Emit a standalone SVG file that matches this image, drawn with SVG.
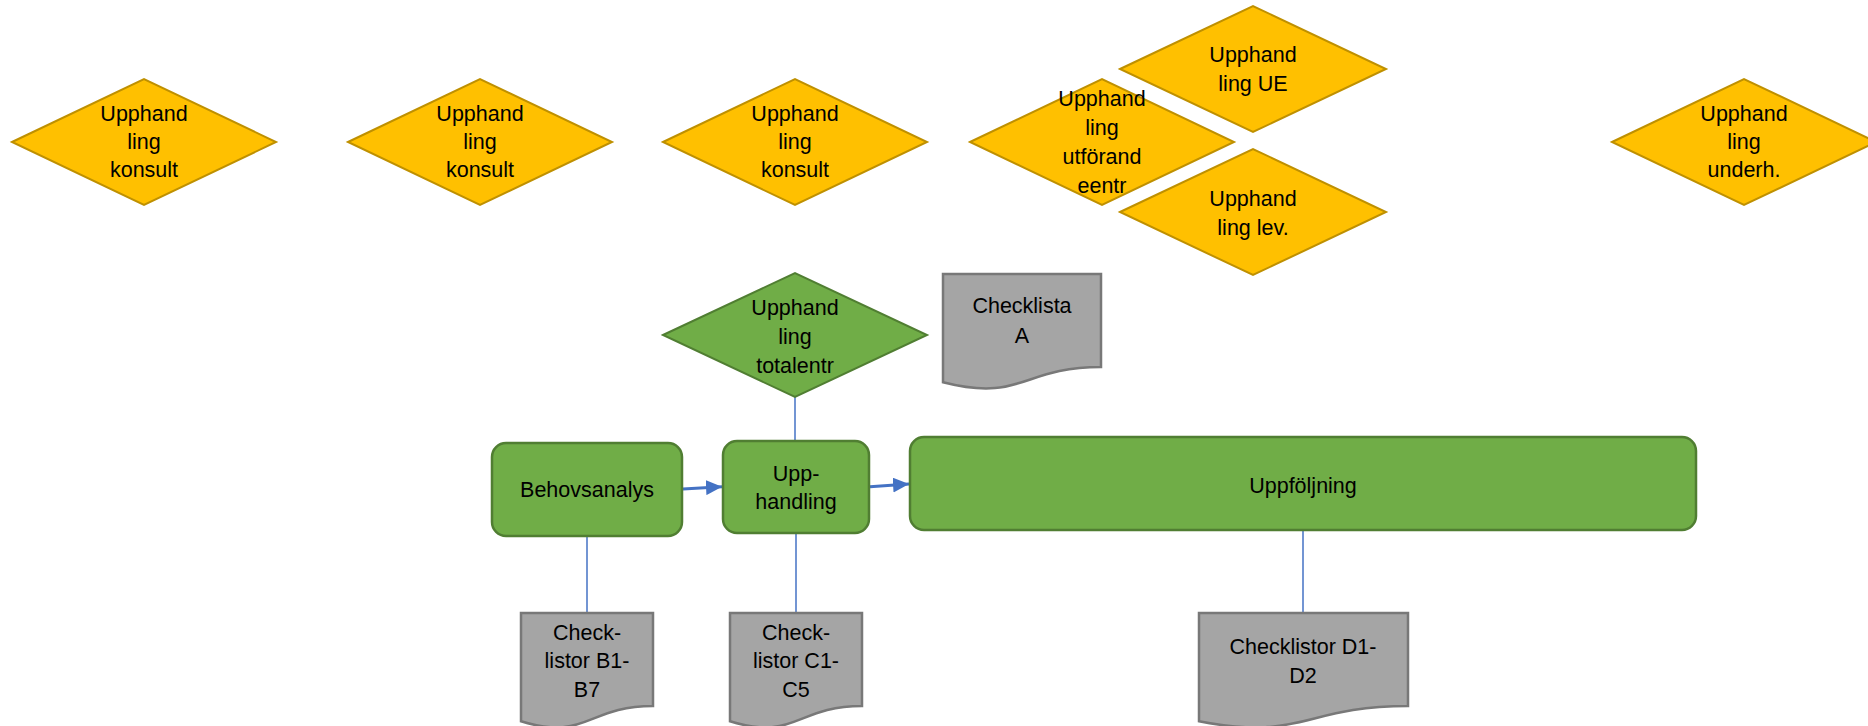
<svg xmlns="http://www.w3.org/2000/svg" width="1868" height="726" viewBox="0 0 1868 726">
  <style>
    .dia { fill: #FFC000; stroke: #BF9000; stroke-width: 2; }
    .gdia { fill: #70AD47; stroke: #507E32; stroke-width: 2; }
    .box { fill: #70AD47; stroke: #507E32; stroke-width: 2.5; }
    .doc { fill: #A5A5A5; stroke: #787878; stroke-width: 2.5; }
    .lbl { font-family: "Liberation Sans", Arial, sans-serif; font-size: 21.5px; fill: #000; text-anchor: middle; dominant-baseline: central; }
    .link { stroke: #4472C4; stroke-width: 1.5; fill: none; }
    .flow { stroke: #4472C4; stroke-width: 3; fill: none; }
  </style>
  <defs>
    <marker id="arr" markerUnits="userSpaceOnUse" markerWidth="17" markerHeight="15" refX="16" refY="7.5" orient="auto">
      <path d="M0,0 L16,7.5 L0,15 Z" fill="#4472C4"/>
    </marker>
  </defs>
  <rect width="1868" height="726" fill="#FFFFFF"/>

  <g id="connectors">
    <line class="link" x1="795" y1="397" x2="795" y2="441"/>
    <line class="link" x1="587" y1="536" x2="587" y2="613"/>
    <line class="link" x1="796" y1="533" x2="796" y2="613"/>
    <line class="link" x1="1303" y1="531" x2="1303" y2="613"/>
    <line class="flow" x1="683" y1="489" x2="722" y2="486.7" marker-end="url(#arr)"/>
    <line class="flow" x1="870" y1="486.7" x2="909" y2="484" marker-end="url(#arr)"/>
  </g>

  <g id="d-konsult-1">
    <polygon class="dia" points="12,142 144,79 276,142 144,205"/>
    <text class="lbl" x="144" y="114">Upphand</text>
    <text class="lbl" x="144" y="142">ling</text>
    <text class="lbl" x="144" y="170">konsult</text>
  </g>
  <g id="d-konsult-2">
    <polygon class="dia" points="348,142 480,79 612,142 480,205"/>
    <text class="lbl" x="480" y="114">Upphand</text>
    <text class="lbl" x="480" y="142">ling</text>
    <text class="lbl" x="480" y="170">konsult</text>
  </g>
  <g id="d-konsult-3">
    <polygon class="dia" points="663,142 795,79 927,142 795,205"/>
    <text class="lbl" x="795" y="114">Upphand</text>
    <text class="lbl" x="795" y="142">ling</text>
    <text class="lbl" x="795" y="170">konsult</text>
  </g>
  <g id="d-utforandeentr">
    <polygon class="dia" points="970,142 1102,79 1234,142 1102,205"/>
    <text class="lbl" x="1102" y="99">Upphand</text>
    <text class="lbl" x="1102" y="128">ling</text>
    <text class="lbl" x="1102" y="157">utförand</text>
    <text class="lbl" x="1102" y="186">eentr</text>
  </g>
  <g id="d-ue">
    <polygon class="dia" points="1120,69 1253,6 1386,69 1253,132"/>
    <text class="lbl" x="1253" y="55">Upphand</text>
    <text class="lbl" x="1253" y="84">ling UE</text>
  </g>
  <g id="d-lev">
    <polygon class="dia" points="1120,212 1253,149 1386,212 1253,275"/>
    <text class="lbl" x="1253" y="199">Upphand</text>
    <text class="lbl" x="1253" y="228">ling lev.</text>
  </g>
  <g id="d-underh">
    <polygon class="dia" points="1612,142 1744,79 1876,142 1744,205"/>
    <text class="lbl" x="1744" y="114">Upphand</text>
    <text class="lbl" x="1744" y="142">ling</text>
    <text class="lbl" x="1744" y="170">underh.</text>
  </g>

  <g id="d-totalentr">
    <polygon class="gdia" points="663,335 795,273 927,335 795,397"/>
    <text class="lbl" x="795" y="308">Upphand</text>
    <text class="lbl" x="795" y="337">ling</text>
    <text class="lbl" x="795" y="366">totalentr</text>
  </g>
  <g id="doc-a">
    <path class="doc" d="M943,274 H1101 V367 C1022,367 1022,402.5 943,382.3 Z"/>
    <text class="lbl" x="1022" y="306">Checklista</text>
    <text class="lbl" x="1022" y="336">A</text>
  </g>

  <g id="behovsanalys">
    <rect class="box" x="492" y="443" width="190" height="93" rx="14"/>
    <text class="lbl" x="587" y="490">Behovsanalys</text>
  </g>
  <g id="upphandling">
    <rect class="box" x="723" y="441" width="146" height="92" rx="14"/>
    <text class="lbl" x="796" y="474">Upp-</text>
    <text class="lbl" x="796" y="502">handling</text>
  </g>
  <g id="uppfoljning">
    <rect class="box" x="910" y="437" width="786" height="93" rx="14"/>
    <text class="lbl" x="1303" y="486">Uppföljning</text>
  </g>

  <g id="doc-b">
    <path class="doc" d="M521,613 H653 V706 C587,706 587,741.5 521,721.3 Z"/>
    <text class="lbl" x="587" y="633">Check-</text>
    <text class="lbl" x="587" y="661">listor B1-</text>
    <text class="lbl" x="587" y="690">B7</text>
  </g>
  <g id="doc-c">
    <path class="doc" d="M730,613 H862 V706 C796,706 796,741.5 730,721.3 Z"/>
    <text class="lbl" x="796" y="633">Check-</text>
    <text class="lbl" x="796" y="661">listor C1-</text>
    <text class="lbl" x="796" y="690">C5</text>
  </g>
  <g id="doc-d">
    <path class="doc" d="M1199,613 H1408 V706 C1303.5,706 1303.5,741.5 1199,721.3 Z"/>
    <text class="lbl" x="1303" y="647">Checklistor D1-</text>
    <text class="lbl" x="1303" y="676">D2</text>
  </g>
</svg>
